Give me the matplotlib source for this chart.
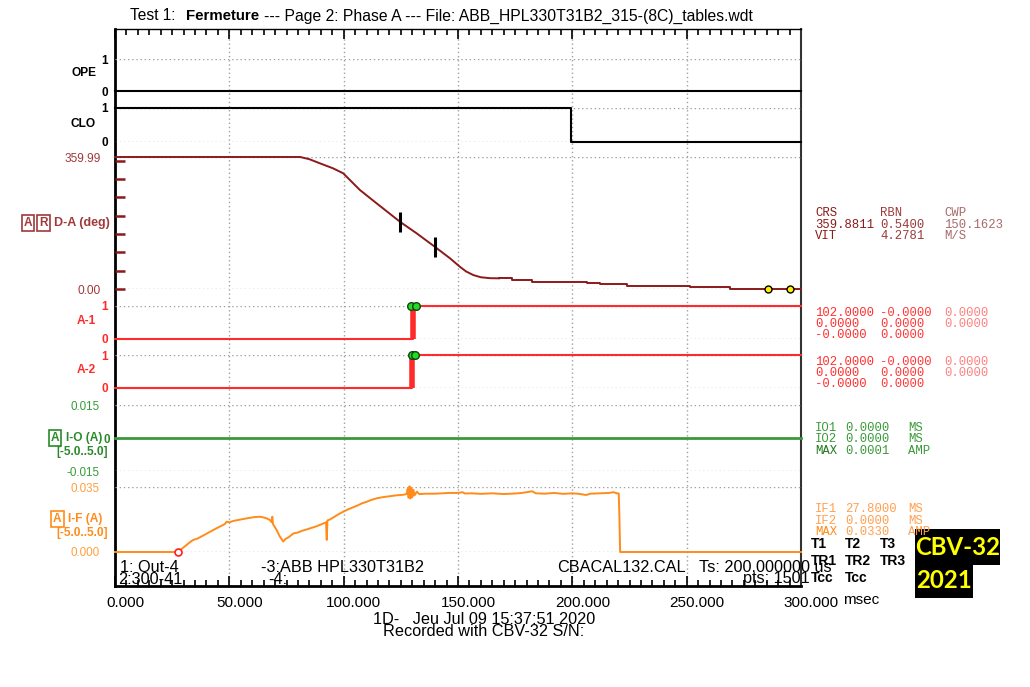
import numpy as np
import matplotlib.pyplot as plt
from matplotlib.patches import Rectangle
from matplotlib.transforms import ScaledTranslation

plt.rcParams['font.family'] = ['Liberation Sans', 'DejaVu Sans']

# ---- data ----
ope_t = [0, 300]
ope_v = [0, 0]
clo_t = [0, 199.2, 199.2, 300]
clo_v = [1, 1, 0, 0]

da_t = [0, 81, 85, 89.6, 95.4, 99.8, 107.1, 114.4, 124.6, 131.9, 139.9, 146.5,
        150.8, 153.5, 156.7, 160, 164, 168]
da_v = [359.99, 359.99, 354, 342.8, 329, 315.5, 270, 233.7, 183.5, 151.9, 115, 83.7,
        60.8, 48, 38, 32, 29.5, 29.1]
da_tail_t = [168, 173.4, 182.2, 206.2, 212, 223.7, 251.4, 268.9, 300]
da_tail_v = [29.1, 24.5, 20, 15.5, 12.7, 8.2, 5.5, 0.9, 0.9]
da_mark_t = [124.6, 139.9]
da_mark_v = [183.5, 115]
da_dot_t = [285.7, 295]
da_dot_v = [0.9, 0.9]

a1_step = 130.2
a1_dots = [129.6, 131.7]
a2_step = 130.0
a2_dots = [129.9, 131.2]

io_t = [0, 300]
io_v = [0, 0]

if_t = [0, 27.4, 29, 31, 33, 34.2, 36, 38, 40, 42, 44, 46, 48, 48.8, 50, 52, 55, 58, 61,
        63.4, 65, 66.5, 67.8, 68.5, 68.8, 69.1, 70.7, 72, 73.6, 74.5, 76, 78, 80, 82, 84,
        86, 88, 90, 92.3, 92.6, 92.9, 94, 96, 98, 99.8, 102, 104, 106, 108, 110, 112,
        114.4, 117, 120, 123, 126, 127.5, 128, 128.4, 128.8, 129.2, 129.6, 130, 130.5,
        131, 132, 133, 136, 140, 143, 146, 150, 152, 153, 156, 160, 165, 170, 175, 178,
        180, 182.5, 184, 188, 192, 196, 200, 203, 206, 208, 212, 216, 218, 219.5, 220.3,
        220.6, 220.9, 300]
if_v = [0, 0, 0.0015, 0.0035, 0.0055, 0.0065, 0.0072, 0.0085, 0.0098, 0.0112, 0.0125,
        0.0138, 0.0150, 0.0163, 0.0160, 0.0168, 0.0175, 0.0182, 0.0188, 0.0190, 0.0186,
        0.0180, 0.0172, 0.0160, 0.0190, 0.0150, 0.0118, 0.0085, 0.0056, 0.0070, 0.0080,
        0.0100, 0.0105, 0.0115, 0.0122, 0.0130, 0.0138, 0.0148, 0.0160, 0.0065, 0.0170,
        0.0175, 0.0190, 0.0205, 0.0217, 0.0230, 0.0240, 0.0250, 0.0262, 0.0270, 0.0280,
        0.0289, 0.0295, 0.0300, 0.0305, 0.0308, 0.0312, 0.0340, 0.0292, 0.0354, 0.0288,
        0.0345, 0.0295, 0.0335, 0.0305, 0.0325, 0.0312, 0.0314, 0.0314, 0.0316, 0.0318,
        0.0318, 0.0322, 0.0315, 0.0316, 0.0313, 0.0316, 0.0312, 0.0315, 0.0318, 0.0322,
        0.0327, 0.0316, 0.0314, 0.0318, 0.0313, 0.0316, 0.0313, 0.0307, 0.0314, 0.0316,
        0.0318, 0.0322, 0.0316, 0.0315, 0.0180, 0.0, 0.0]
if_start = 27.4

x_ticks = [0, 50, 100, 150, 200, 250, 300]
x_labels = ['0.000', '50.000', '100.000', '150.000', '200.000', '250.000', '300.000']

MAROON = '#8b1a1a'
MAROON_T = '#a0393a'
RED = '#ff2a2a'
GREEN = '#3a9a3a'
DGREEN = '#2a8a2a'
ORANGE = '#ff8c1a'
GRID = dict(linestyle=(0, (1, 2)), color='#a0a0a0', linewidth=1)

W, H = 1030, 687
X0, X1 = 115, 801
fig = plt.figure(figsize=(W / 100, H / 100), dpi=100)


def ptext(x, y, s, **kw):
    kw.setdefault('va', 'center')
    return fig.text(x / W, 1 - y / H, s, **kw)


# main frame
main = fig.add_axes([X0 / W, 1 - 586 / H, (X1 - X0) / W, (586 - 29) / H])
main.set_xlim(0, 300)
main.set_ylim(0, 1)
main.set_yticks([])
main.set_xticks(x_ticks)
main.set_xticklabels(x_labels, fontsize=11)
main.set_xticks(np.arange(0, 301, 5), minor=True)
main.tick_params(axis='x', which='both', direction='in', top=True, bottom=True, pad=7)
main.tick_params(axis='x', which='major', length=7, width=1.2)
main.tick_params(axis='x', which='minor', length=4, width=1.2)
for lbl in main.get_xticklabels():
    lbl.set_transform(lbl.get_transform() + ScaledTranslation(0.10, 0, fig.dpi_scale_trans))
main.grid(axis='x', which='major', **GRID)
main.spines['left'].set_linewidth(2)
main.spines['bottom'].set_linewidth(2)
main.spines['top'].set_linewidth(1)
main.spines['right'].set_linewidth(1.5)
main.spines['right'].set_color('#333333')


def band(top, bot, lo, hi):
    ax = fig.add_axes([X0 / W, 1 - bot / H, (X1 - X0) / W, (bot - top) / H])
    ax.set_xlim(0, 300)
    ax.set_ylim(lo, hi)
    ax.patch.set_alpha(0)
    for s in ax.spines.values():
        s.set_visible(False)
    ax.set_xticks([])
    ax.tick_params(axis='y', which='major', length=0)
    ax.grid(axis='y', which='major', **GRID)
    return ax


# OPE
ax = band(59, 91, 0, 1)
ax.set_yticks([0, 1], ['0', '1'], fontsize=8.5, fontweight='bold')
ax.tick_params(axis='y', pad=5)
ax.plot(ope_t, ope_v, color='black', lw=1.5, clip_on=False)

# CLO
ax = band(108, 142, 0, 1)
ax.set_yticks([0, 1], ['0', '1'], fontsize=8.5, fontweight='bold')
ax.tick_params(axis='y', pad=5)
ax.plot(clo_t, clo_v, color='black', lw=1.5, clip_on=False)

# D-A
ax = band(157, 289, 0, 359.99)
ax.yaxis.remove_overlapping_locs = False
ax.set_yticks([0, 359.99], ['0.00', '359.99'], fontsize=8.6, color=MAROON_T)
ax.set_yticks(np.arange(0, 351, 50), minor=True)
ax.tick_params(axis='y', which='major', pad=10, labelcolor=MAROON_T)
ax.tick_params(axis='y', which='minor', direction='in', length=7, width=1.8, color=MAROON)
ax.plot(da_t, da_v, color=MAROON, lw=1.4, clip_on=False)
ax.plot(da_tail_t, da_tail_v, color=MAROON, lw=1.4, drawstyle='steps-post', clip_on=False)
ax.plot(da_mark_t, da_mark_v, ls='none', marker='|', ms=15, mew=2.2, color='black')
ax.plot(da_dot_t, da_dot_v, ls='none', marker='o', ms=5, mfc='#ffee00', mec='black',
        mew=1, clip_on=False)

# A-1 / A-2
for top, bot, step, dots in [(306, 339, a1_step, a1_dots), (355, 388, a2_step, a2_dots)]:
    ax = band(top, bot, 0, 1)
    ax.set_yticks([0, 1], ['0', '1'], fontsize=8.5, fontweight='bold', color=RED)
    ax.tick_params(axis='y', pad=5)
    ax.plot([0, step, step, 300], [0, 0, 1, 1], color=RED, lw=1.5, clip_on=False)
    ax.plot([step, step], [0, 1], color=RED, lw=4, solid_capstyle='butt', clip_on=False)
    ax.plot(dots, [1, 1], ls='none', marker='o', ms=5.5, mfc='#22dd22', mec='#114411',
            mew=1, clip_on=False)

# I-O
ax = band(405, 471, -0.015, 0.015)
ax.set_yticks([-0.015, 0, 0.015], ['-0.015', '0', '0.015'], fontsize=8.4, color=GREEN)
ax.tick_params(axis='y', pad=11)
zero_lbl = ax.get_yticklabels()[1]
zero_lbl.set_fontweight('bold')
zero_lbl.set_color(DGREEN)
zero_lbl.set_transform(zero_lbl.get_transform() + ScaledTranslation(0.10, 0, fig.dpi_scale_trans))
ax.plot(io_t, io_v, color=GREEN, lw=2, clip_on=False)

# I-F
ax = band(487, 552, 0, 0.035)
ax.set_yticks([0, 0.035], ['0.000', '0.035'], fontsize=8.4, color='#ffa040')
ax.tick_params(axis='y', pad=11)
ax.plot(if_t, if_v, color=ORANGE, lw=1.4, clip_on=False)
ax.plot([if_start], [0], ls='none', marker='o', ms=5, mfc='white', mec='#ff2020',
        mew=1.2, clip_on=False)

# ---- channel names on the left ----
lab = dict(fontsize=8.6, fontweight='bold')
ptext(96, 73, 'OPE', ha='right', **lab)
ptext(96, 124, 'CLO', ha='right', **lab)
box = dict(boxstyle='square,pad=0.15', fc='none', lw=1.2)
ptext(28, 223, 'A', ha='center', color=MAROON_T, bbox=dict(box, ec=MAROON_T), **lab)
ptext(43.5, 223, 'R', ha='center', color=MAROON_T, bbox=dict(box, ec=MAROON_T), **lab)
ptext(54, 223, 'D-A (deg)', ha='left', color=MAROON_T, fontsize=9, fontweight='bold')
ptext(96, 321, 'A-1', ha='right', color=RED, **lab)
ptext(96, 370, 'A-2', ha='right', color=RED, **lab)
ptext(55, 438, 'A', ha='center', color=DGREEN, bbox=dict(box, ec=DGREEN), **lab)
ptext(66, 438, 'I-O (A)', ha='left', color=DGREEN, **lab)
ptext(108, 452, '[-5.0..5.0]', ha='right', color=DGREEN, **lab)
ptext(57.5, 519, 'A', ha='center', color=ORANGE, bbox=dict(box, ec=ORANGE), **lab)
ptext(68, 519, 'I-F (A)', ha='left', color=ORANGE, **lab)
ptext(108, 533, '[-5.0..5.0]', ha='right', color=ORANGE, **lab)

# ---- title ----
ptext(130, 16, 'Test 1:', fontsize=11.2)
ptext(186, 16, 'Fermeture', fontsize=10.8, fontweight='bold')
ptext(264, 16, '--- Page 2: Phase A --- File: ABB_HPL330T31B2_315-(8C)_tables.wdt',
      fontsize=11.3)

# ---- right-hand result table ----
mono = dict(family='Liberation Mono', fontsize=8.8, ha='left')
rows_y = [213, 224.5, 236]
for (c1, c2, c3), y in zip([('CRS', 'RBN', 'CWP'), ('359.8811', '0.5400', '150.1623'),
                            ('VIT', '4.2781', 'M/S')], rows_y):
    ptext(815, y, c1, color='#8b1a1a', **mono)
    ptext(880, y, c2, color='#9a3a3a', **mono)
    ptext(944, y, c3, color='#a86a6a', **mono)
for y0 in [313, 361.7]:
    for (c1, c2, c3), dy in zip([('102.0000', '-0.0000', '0.0000'),
                                 ('0.0000', '0.0000', '0.0000'),
                                 ('-0.0000', '0.0000', '')], [0, 11.2, 22.5]):
        ptext(815, y0 + dy, c1, color='#ff3030', **mono)
        ptext(880, y0 + dy, c2, color='#ff3838', **mono)
        ptext(944, y0 + dy, c3, color='#ff8080', **mono)
for (c1, c2, c3), y, col in zip([('IO1', '0.0000', 'MS'), ('IO2', '0.0000', 'MS'),
                                 ('MAX', '0.0001', 'AMP')], [427.7, 439, 450.7],
                                ['#3a9a3a', '#3a9a3a', '#207a20']):
    ptext(815, y, c1, color=col, **mono)
    ptext(845, y, c2, color='#3a9a3a', **mono)
    ptext(908, y, c3, color='#3a9a3a', **mono)
for (c1, c2, c3), y, col in zip([('IF1', '27.8000', 'MS'), ('IF2', '0.0000', 'MS'),
                                 ('MAX', '0.0330', 'AMP')], [509.3, 520.7, 532],
                                ['#ffa050', '#ffa050', '#ff8c1a']):
    ptext(815, y, c1, color=col, **mono)
    ptext(845, y, c2, color='#ffa050', **mono)
    ptext(908, y, c3, color='#ffa050', **mono)

tb = dict(fontsize=10, fontweight='bold', ha='left')
for x, a, b, c in [(811, 'T1', 'TR1', 'Tcc'), (845, 'T2', 'TR2', 'Tcc'), (880, 'T3', 'TR3', '')]:
    ptext(x, 544, a, **tb)
    ptext(x, 560.7, b, **tb)
    ptext(x, 578, c, **tb)

# CBV-32 stamp
for (x0, y0, x1, y1) in [(915, 529, 1000, 565), (915, 564, 973, 598)]:
    fig.patches.append(Rectangle((x0 / W, 1 - y1 / H), (x1 - x0) / W, (y1 - y0) / H,
                                 transform=fig.transFigure, fc='black', ec='none'))
cbv = dict(family='Lato', fontsize=17.3, fontweight='bold', color='#ffff00', ha='center')
ptext(958, 547.5, 'CBV-32', **cbv)
ptext(944, 581, '2021', **cbv)

# ---- footer texts ----
foot = dict(fontsize=11.7)
ptext(120, 567, '1: Out-4', **foot)
ptext(118, 580, '2:300-41', **foot)
ptext(261, 567, '-3:ABB HPL330T31B2', **foot)
ptext(268, 580, '-4:', **foot)
ptext(557, 567, 'CBACAL132.CAL', **foot)
ptext(699, 567, 'Ts: 200.000000 us', **foot)
ptext(810, 579, 'pts: 1501', ha='right', **foot)
ptext(843, 600, 'msec', fontsize=11, ha='left')
ptext(373, 619, '1D-   Jeu Jul 09 15:37:51 2020', **foot)
ptext(383, 631, 'Recorded with CBV-32 S/N:', **foot)

fig.savefig('out.png', dpi=100)
